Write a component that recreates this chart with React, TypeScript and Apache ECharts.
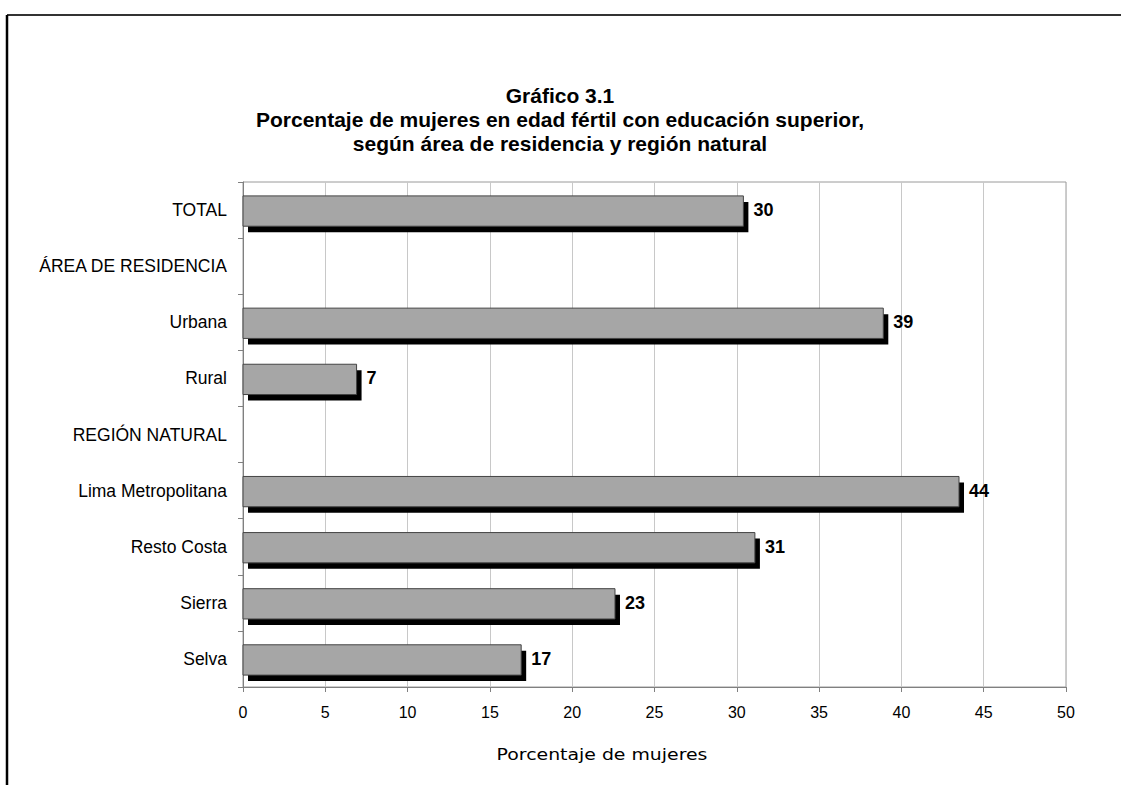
import React, { useEffect, useRef } from "react";
import * as echarts from "echarts";

const categories = [
  "TOTAL",
  "ÁREA DE RESIDENCIA",
  "Urbana",
  "Rural",
  "REGIÓN NATURAL",
  "Lima Metropolitana",
  "Resto Costa",
  "Sierra",
  "Selva",
];
const values: (number | null)[] = [30.4, null, 38.9, 6.9, null, 43.5, 31.1, 22.6, 16.9];
const valueLabels: (string | null)[] = ["30", null, "39", "7", null, "44", "31", "23", "17"];
const xTicks = { min: 0, max: 50, interval: 5 };

const titleLines = [
  "Gráfico 3.1",
  "Porcentaje de mujeres en edad fértil con educación superior,",
  "según área de residencia y región natural",
];
const xAxisTitle = "Porcentaje de mujeres";

const FONT = "'Liberation Sans', Arial, sans-serif";

export default function App() {
  const ref = useRef<HTMLDivElement>(null);
  useEffect(() => {
    if (!ref.current) return;
    const chart = echarts.init(ref.current, null, { renderer: "svg" });
    const data = values
      .map((v, i) => (v == null ? null : [v, i, i]))
      .filter((d) => d !== null);
    chart.setOption({
      animation: false,
      backgroundColor: "#ffffff",
      grid: {
        left: 243,
        right: 55,
        top: 182,
        bottom: 98,
        show: true,
        borderColor: "#9a9a9a",
        borderWidth: 1,
        backgroundColor: "transparent",
      },
      xAxis: {
        type: "value",
        min: xTicks.min,
        max: xTicks.max,
        interval: xTicks.interval,
        axisLine: { show: true, lineStyle: { color: "#808080", width: 1 } },
        axisTick: { show: true, length: 5, lineStyle: { color: "#808080" } },
        splitLine: { show: true, lineStyle: { color: "#c8c8c8", width: 1 } },
        axisLabel: { color: "#000", fontSize: 16, fontFamily: FONT, margin: 17 },
      },
      yAxis: {
        type: "category",
        data: categories,
        inverse: true,
        axisLine: { show: true, lineStyle: { color: "#808080", width: 1 } },
        axisTick: { show: true, length: 5, lineStyle: { color: "#808080" } },
        axisLabel: { color: "#000", fontSize: 17.5, fontFamily: FONT, margin: 16 },
        splitLine: { show: false },
      },
      graphic: [
        {
          type: "line",
          shape: { x1: 7, y1: 15, x2: 1121, y2: 15 },
          style: { stroke: "#333", lineWidth: 2 },
        },
        {
          type: "line",
          shape: { x1: 7, y1: 15, x2: 7, y2: 785 },
          style: { stroke: "#000", lineWidth: 2.5 },
        },
        ...titleLines.map((t, i) => ({
          type: "text",
          x: 560,
          y: 95 + i * 24,
          style: {
            text: t,
            font: `bold 21px ${FONT}`,
            fill: "#000",
            textAlign: "center",
            textVerticalAlign: "middle",
          },
        })),
        {
          type: "text",
          x: 602,
          y: 755,
          scaleX: 1.18,
          style: {
            text: xAxisTitle,
            font: `16px 'DejaVu Sans', sans-serif`,
            fill: "#000",
            textAlign: "center",
            textVerticalAlign: "middle",
          },
        },
      ],
      series: [
        {
          type: "custom",
          encode: { x: 0, y: 1 },
          data,
          renderItem: (params: any, api: any) => {
            const v = api.value(0);
            const idx = api.value(2);
            const start = api.coord([0, idx]);
            const end = api.coord([v, idx]);
            const band = api.size([0, 1])[1];
            const h = band * 0.54;
            const y = start[1] - h / 2 + 1;
            const w = end[0] - start[0];
            const label = valueLabels[idx] ?? "";
            return {
              type: "group",
              children: [
                {
                  type: "rect",
                  shape: { x: start[0] + 5, y: y + 6, width: w, height: h },
                  style: { fill: "#000" },
                },
                {
                  type: "rect",
                  shape: { x: start[0], y, width: w, height: h },
                  style: { fill: "#a6a6a6", stroke: "#444", lineWidth: 1 },
                },
                {
                  type: "text",
                  x: end[0] + 10,
                  y: start[1],
                  style: {
                    text: label,
                    font: `bold 18px ${FONT}`,
                    fill: "#000",
                    textAlign: "left",
                    textVerticalAlign: "middle",
                  },
                },
              ],
            };
          },
        },
      ],
    });
    return () => chart.dispose();
  }, []);
  return (
    <div
      ref={ref}
      style={{ position: "absolute", left: 0, top: 0, width: 1121, height: 785 }}
    />
  );
}
